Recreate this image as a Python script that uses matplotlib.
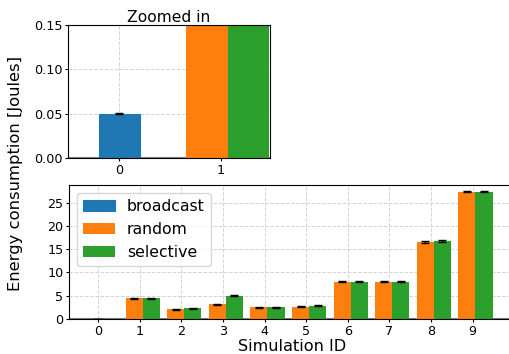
import numpy as np
import matplotlib
matplotlib.use('Agg')
import matplotlib.pyplot as plt

sim_ids = [0, 1, 2, 3, 4, 5, 6, 7, 8, 9]
broadcast = [0.05, np.nan, np.nan, np.nan, np.nan, np.nan, np.nan, np.nan, np.nan, np.nan]
random_ = [np.nan, 4.5, 2.1, 3.2, 2.55, 2.6, 7.95, 7.95, 16.55, 27.3]
selective = [np.nan, 4.45, 2.35, 4.95, 2.55, 2.8, 7.95, 8.0, 16.75, 27.3]
broadcast_err = [0.0005, 0, 0, 0, 0, 0, 0, 0, 0, 0]
random_err = [0, 0.1, 0.1, 0.1, 0.1, 0.1, 0.1, 0.1, 0.2, 0.1]
selective_err = [0, 0.1, 0.1, 0.1, 0.1, 0.1, 0.1, 0.1, 0.2, 0.1]

colors = ['#1f77b4', '#ff7f0e', '#2ca02c']
w = 0.41
x = np.arange(len(sim_ids))

fig = plt.figure(figsize=(5.1, 3.54), dpi=100)
ax1 = fig.add_axes([68/510, 1-158.3/354, 202/510, 133.3/354])
ax2 = fig.add_axes([69/510, 1-319/354, 446/510, 133.7/354])

ekw = dict(ecolor='black', elinewidth=1, capsize=3, capthick=1)

def draw(ax, n):
    ax.bar(x[:n], broadcast[:n], w, yerr=broadcast_err[:n], color=colors[0],
           edgecolor=colors[0], linewidth=0.8,
           label='broadcast', error_kw=ekw, zorder=2)
    ax.bar(x[:n] - 0.34, random_[:n], w, yerr=random_err[:n], color=colors[1],
           label='random', error_kw=ekw, zorder=2, align='edge')
    ax.bar(x[:n] + 0.07, selective[:n], w, yerr=selective_err[:n], color=colors[2],
           label='selective', error_kw=ekw, zorder=2, align='edge')
    ax.grid(color='lightgray', linestyle='--', linewidth=0.7)
    ax.set_axisbelow(True)
    ax.axhline(0, color='gray', linewidth=1.5, zorder=1.5)
    ax.tick_params(labelsize=9.2, length=2.5, pad=1.5)

draw(ax1, 2)
ax1.set_xticks([0, 1])
ax1.set_xlim(-0.506, 1.486)
ax1.set_ylim(0, 0.15)
ax1.set_yticks([0, 0.05, 0.10, 0.15])
ax1.set_title('Zoomed in', fontsize=11.2, pad=2)

draw(ax2, len(sim_ids))
ax2.set_xticks(x)
ax2.set_xticklabels([str(s) for s in sim_ids])
ax2.set_xlim(-0.7, 10.02)
ax2.set_ylim(0, 28.7)
ax2.set_yticks([0, 5, 10, 15, 20, 25])
ax2.set_xlabel('Simulation ID', fontsize=11.6, labelpad=1)
ax2.legend(loc='upper left', fontsize=11.3)

fig.text(0.03, 0.51, 'Energy consumption [Joules]', rotation=90,
         ha='center', va='center', fontsize=11.8)

fig.savefig('out.png', dpi=100)
